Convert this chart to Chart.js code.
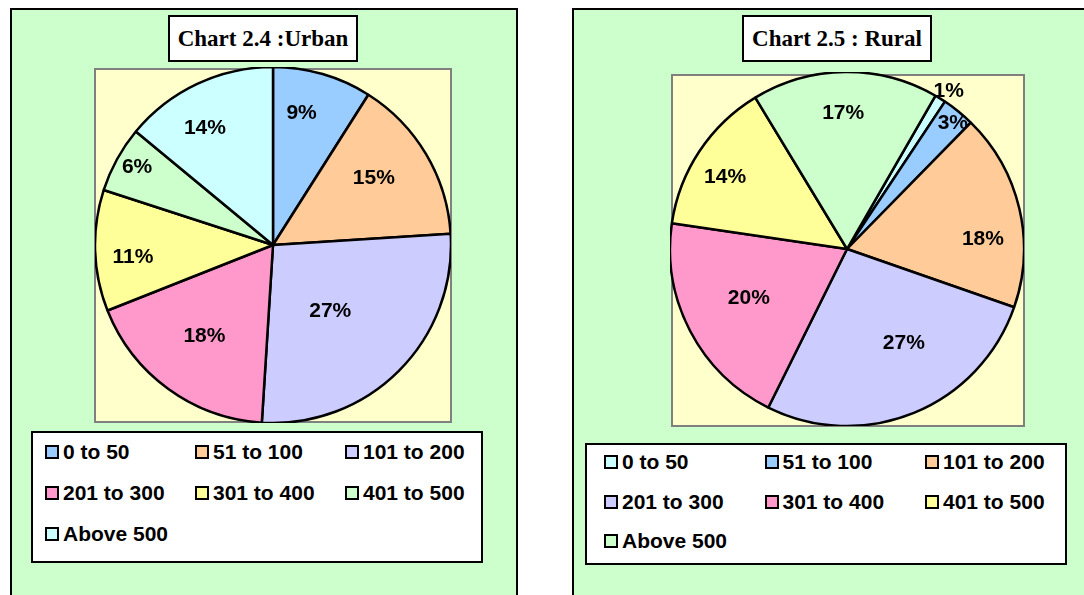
<!DOCTYPE html>
<html>
<head>
<meta charset="utf-8">
<script src="https://cdn.jsdelivr.net/npm/chart.js@4.4.0/dist/chart.umd.min.js"></script>
<style>
  body { margin: 0; width: 1084px; height: 595px; overflow: hidden; background: #fff; position: relative; }
  .box { position: absolute; box-sizing: border-box; }
  .panel { top: 8px; height: 620px; background: #ccffcc; border: 2px solid #000; }
  .title { background: #fff; border: 2px solid #000; display: flex; align-items: center; justify-content: center;
    font: bold 23px 'Liberation Serif', 'Times New Roman', serif; color: #000; white-space: nowrap; }
  .plot { background: #ffffcc; border: 2px solid #808080; }
  .legend { background: #fff; border: 2px solid #000; }
  canvas { position: absolute; }
  .item { position: absolute; height: 24px; display: flex; align-items: center; white-space: nowrap;
    font: bold 21px 'Liberation Sans', Arial, sans-serif; color: #000; }
  .sw { width: 10px; height: 10px; border: 2px solid #000; margin-right: 4px; }
</style>
</head>
<body>
<div class="box panel" style="left:10px;width:508px"></div>
<div class="box panel" style="left:572px;width:530px"></div>

<div class="box title" style="left:168px;top:15px;width:190px;height:47px">Chart 2.4 :Urban</div>
<div class="box title" style="left:742px;top:15px;width:190px;height:47px">Chart 2.5 : Rural</div>

<div class="box plot" style="left:94px;top:68px;width:358px;height:355px"></div>
<div class="box plot" style="left:671px;top:74px;width:354px;height:353px"></div>

<canvas id="urban" width="356" height="356" style="left:95px;top:67px"></canvas>
<canvas id="rural" width="354" height="354" style="left:670px;top:72px"></canvas>

<div class="box legend" id="urbanLegend" style="left:31px;top:431px;width:452px;height:132px"></div>
<div class="box legend" id="ruralLegend" style="left:585px;top:443px;width:482px;height:122px"></div>

<script>
// households by size class, percent share
const categories = ['0 to 50', '51 to 100', '101 to 200', '201 to 300', '301 to 400', '401 to 500', 'Above 500']
const urbanShare = [9, 15, 27, 18, 11, 6, 14]
const ruralShare = [1, 3, 18, 27, 20, 14, 17]
const urbanColors = ['#99ccff', '#ffcc99', '#ccccff', '#ff99cc', '#ffff99', '#ccffcc', '#ccffff']
const ruralColors = ['#ccffff', '#99ccff', '#ffcc99', '#ccccff', '#ff99cc', '#ffff99', '#ccffcc']

// draws "n%" inside each slice, [radius fraction, angle nudge in degrees]
const pieLabels = {
  id: 'pieLabels',
  afterDatasetsDraw(chart, args, opts) {
    const ctx = chart.ctx
    const meta = chart.getDatasetMeta(0)
    const values = chart.data.datasets[0].data
    ctx.save()
    ctx.font = 'bold 21px "Liberation Sans", Arial, sans-serif'
    ctx.fillStyle = '#000'
    ctx.textAlign = 'center'
    ctx.textBaseline = 'middle'
    meta.data.forEach((arc, i) => {
      const p = arc.getProps(['x', 'y', 'startAngle', 'endAngle', 'outerRadius'])
      const place = opts.place[i]
      const a = (p.startAngle + p.endAngle) / 2 + place[1] * Math.PI / 180
      const r = p.outerRadius * place[0]
      ctx.fillText(values[i] + '%', p.x + Math.cos(a) * r, p.y + Math.sin(a) * r)
    })
    ctx.restore()
  }
}

const makePie = (id, values, colors, radius, rotation, place) => {
  return new Chart(document.getElementById(id), {
    type: 'pie',
    data: {
      labels: categories,
      datasets: [{
        data: values,
        backgroundColor: colors,
        borderColor: '#000',
        borderWidth: 2.5,
        hoverOffset: 0
      }]
    },
    options: {
      responsive: false,
      animation: false,
      events: [],
      radius: radius,
      rotation: rotation,
      layout: { padding: 0 },
      plugins: {
        legend: { display: false },
        tooltip: { enabled: false },
        pieLabels: { place: place }
      }
    },
    plugins: [pieLabels]
  })
}

const fillLegend = (chart, boxId, x0, y0, colW, rowH) => {
  const box = document.getElementById(boxId)
  const ds = chart.data.datasets[0]
  chart.data.labels.forEach((label, i) => {
    const item = document.createElement('div')
    item.className = 'item'
    item.style.left = (x0 + (i % 3) * colW) + 'px'
    item.style.top = (y0 + Math.floor(i / 3) * rowH - 12) + 'px'
    const sw = document.createElement('span')
    sw.className = 'sw'
    sw.style.background = ds.backgroundColor[i]
    item.appendChild(sw)
    item.appendChild(document.createTextNode(label))
    box.appendChild(item)
  })
}

const urbanChart = makePie('urban', urbanShare, urbanColors, 178, 0,
  [[0.76, -4], [0.68, -3], [0.49, 4], [0.64, 1], [0.79, -3], [0.88, 1], [0.76, -5]])
const ruralChart = makePie('rural', ruralShare, ruralColors, 177, 30,
  [[1.06, 1], [0.93, 1], [0.77, 9], [0.62, -9], [0.62, 1], [0.80, -3], [0.77, -1]])

fillLegend(urbanChart, 'urbanLegend', 12, 19, 150, 41)
fillLegend(ruralChart, 'ruralLegend', 17, 17, 160.5, 39.5)
</script>
</body>
</html>
